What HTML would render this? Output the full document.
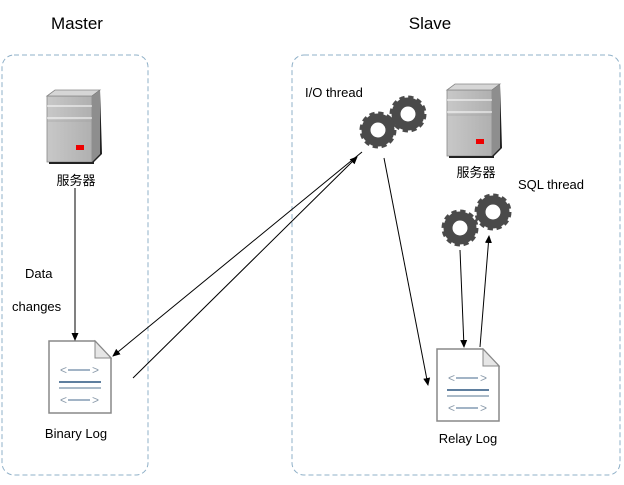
<!DOCTYPE html>
<html><head><meta charset="utf-8"><style>
html,body{margin:0;padding:0;background:#fff;}
svg text{font-family:"Liberation Sans","Noto Sans CJK SC",sans-serif;fill:#000;}
</style></head><body>
<svg width="624" height="480" viewBox="0 0 624 480" xmlns="http://www.w3.org/2000/svg">
<defs>
<marker id="a" markerWidth="8" markerHeight="8" refX="7" refY="4" orient="auto" markerUnits="userSpaceOnUse">
<path d="M0,0.5 L8,4 L0,7.5 Z" fill="#000"/></marker>
<linearGradient id="sf" x1="0" x2="1"><stop offset="0" stop-color="#c8c8c8"/><stop offset="1" stop-color="#b0b0b0"/></linearGradient>
<g id="srv">
<polygon points="0,6 45,6 45,72 0,72" fill="url(#sf)" stroke="#888" stroke-width="0.8"/>
<polygon points="0,6 8,0 53,0 45,6" fill="#d6d6d6" stroke="#888" stroke-width="0.8"/>
<polygon points="45,6 53,0 55,64 45,74" fill="#222"/>
<polygon points="45,6 53,0 53,64 45,72" fill="#8e8e8e"/>
<line x1="0" y1="16" x2="45" y2="16" stroke="#fff" stroke-width="1"/>
<line x1="0" y1="28" x2="45" y2="28" stroke="#fff" stroke-width="1"/>
<line x1="0" y1="31" x2="45" y2="31" stroke="#999" stroke-width="0.6"/>
<rect x="29" y="55" width="8" height="5" fill="#e00"/>
<line x1="2" y1="73" x2="47" y2="73" stroke="#222" stroke-width="2"/>
</g>
<g id="gear">
<circle r="14.5" fill="none" stroke="#4a4a4a" stroke-width="8" stroke-dasharray="4.5 3.1"/>
<circle r="12" fill="none" stroke="#4a4a4a" stroke-width="9"/>
<circle r="5" fill="#fff"/>
</g>
<g id="doc">
<path d="M0,0 L46,0 L62,17 L62,72 L0,72 Z" fill="#fff" stroke="#888" stroke-width="1.5"/>
<path d="M46,0 L46,17 L62,17 Z" fill="#e6e6e6" stroke="#888" stroke-width="1"/>
<text x="11" y="33" font-size="12" style="fill:#8a9aaa">&lt;</text>
<line x1="19" y1="29" x2="41" y2="29" stroke="#6a86a4" stroke-width="1.3"/>
<text x="43" y="33" font-size="12" style="fill:#8a9aaa">&gt;</text>
<line x1="10" y1="41" x2="52" y2="41" stroke="#5f7f9f" stroke-width="2"/>
<line x1="10" y1="47" x2="52" y2="47" stroke="#7890a8" stroke-width="1.2"/>
<text x="11" y="63" font-size="12" style="fill:#8a9aaa">&lt;</text>
<line x1="19" y1="59" x2="41" y2="59" stroke="#6a86a4" stroke-width="1.3"/>
<text x="43" y="63" font-size="12" style="fill:#8a9aaa">&gt;</text>
</g>
</defs>
<rect x="2" y="55" width="146" height="420" rx="12" fill="none" stroke="#8fb0c8" stroke-width="1" stroke-dasharray="5 3"/>
<rect x="292" y="55" width="328" height="420" rx="12" fill="none" stroke="#8fb0c8" stroke-width="1" stroke-dasharray="5 3"/>
<text x="77" y="29" font-size="17" text-anchor="middle">Master</text>
<text x="430" y="29" font-size="17" text-anchor="middle">Slave</text>
<use href="#srv" x="47" y="90"/>
<text x="76" y="185" font-size="13" text-anchor="middle">服务器</text>
<use href="#srv" x="447" y="84"/>
<text x="476" y="177" font-size="13" text-anchor="middle">服务器</text>
<use href="#gear" x="408" y="114"/>
<use href="#gear" x="378" y="130"/>
<use href="#gear" x="493" y="212"/>
<use href="#gear" x="460" y="228"/>
<text x="305" y="97" font-size="13">I/O thread</text>
<text x="518" y="189" font-size="13">SQL thread</text>
<text x="25" y="278" font-size="13">Data</text>
<text x="12" y="311" font-size="13">changes</text>
<use href="#doc" x="49" y="341"/>
<use href="#doc" x="437" y="349"/>
<text x="76" y="438" font-size="13" text-anchor="middle">Binary Log</text>
<text x="468" y="443" font-size="13" text-anchor="middle">Relay Log</text>
<g stroke="#000" stroke-width="1" fill="none">
<line x1="75" y1="188" x2="75" y2="340" marker-end="url(#a)"/>
<line x1="133" y1="378" x2="357" y2="157" marker-end="url(#a)"/>
<line x1="362" y1="152" x2="113" y2="356" marker-end="url(#a)"/>
<line x1="384" y1="158" x2="428" y2="385" marker-end="url(#a)"/>
<line x1="460" y1="250" x2="464" y2="347" marker-end="url(#a)"/>
<line x1="480" y1="347" x2="489" y2="236" marker-end="url(#a)"/>
</g>
</svg>
</body></html>
